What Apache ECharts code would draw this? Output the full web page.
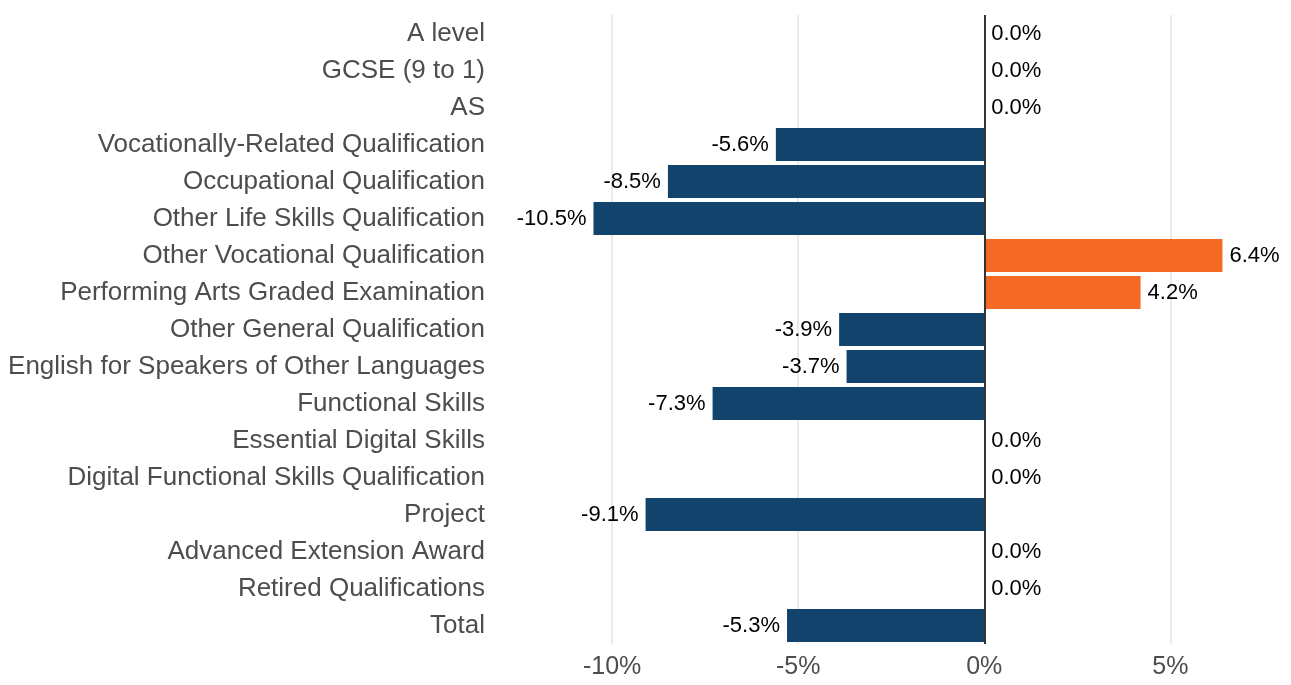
<!DOCTYPE html>
<html>
<head>
<meta charset="utf-8">
<title>Change by qualification type</title>
<script src="https://cdn.jsdelivr.net/npm/echarts@6/dist/echarts.min.js"></script>
<style>
  html, body { margin: 0; padding: 0; background: #fff; }
  #chart { width: 1291px; height: 685px; }
</style>
</head>
<body>
<div id="chart"></div>
<script>
  // qualification types, top to bottom
  const categories = [
    'A level',
    'GCSE (9 to 1)',
    'AS',
    'Vocationally-Related Qualification',
    'Occupational Qualification',
    'Other Life Skills Qualification',
    'Other Vocational Qualification',
    'Performing Arts Graded Examination',
    'Other General Qualification',
    'English for Speakers of Other Languages',
    'Functional Skills',
    'Essential Digital Skills',
    'Digital Functional Skills Qualification',
    'Project',
    'Advanced Extension Award',
    'Retired Qualifications',
    'Total'
  ];
  // percentage change
  const changes = [0, 0, 0, -5.6, -8.5, -10.5, 6.4, 4.2, -3.9, -3.7, -7.3, 0, 0, -9.1, 0, 0, -5.3];
  const tickValues = [-10, -5, 0, 5];

  const navy = '#12436D';
  const orange = '#F46A25';
  const font = 'Liberation Sans, Arial, sans-serif';

  const barData = changes.map(v => ({
    value: v,
    itemStyle: { color: v > 0 ? orange : navy },
    label: { position: v < 0 ? 'left' : 'right' }
  }));

  const myChart = echarts.init(document.getElementById('chart'));
  myChart.setOption({
    animation: false,
    grid: { left: 493, right: 9, top: 15, bottom: 41, containLabel: false },
    xAxis: {
      type: 'value',
      min: -13.2,
      max: 8.0,
      axisLine: { show: false },
      axisTick: { show: false, customValues: tickValues },
      axisLabel: {
        customValues: tickValues,
        formatter: v => v + '%',
        color: '#4D4D4D',
        fontSize: 25,
        fontFamily: font,
        margin: 11
      },
      splitLine: { show: true, lineStyle: { color: '#EBEBEB', width: 2 } }
    },
    yAxis: {
      type: 'category',
      inverse: true,
      data: categories,
      axisLine: { show: false },
      axisTick: { show: false },
      splitLine: { show: false },
      axisLabel: {
        color: '#4D4D4D',
        fontSize: 26,
        fontFamily: font,
        margin: 8
      }
    },
    series: [{
      type: 'bar',
      data: barData,
      barWidth: '89%',
      label: {
        show: true,
        distance: 7,
        color: '#000',
        fontSize: 22,
        fontFamily: font,
        formatter: p => p.value.toFixed(1) + '%'
      },
      markLine: {
        silent: true,
        symbol: 'none',
        label: { show: false },
        lineStyle: { color: '#333', width: 2, type: 'solid' },
        data: [{ xAxis: 0 }]
      }
    }]
  });
</script>
</body>
</html>
